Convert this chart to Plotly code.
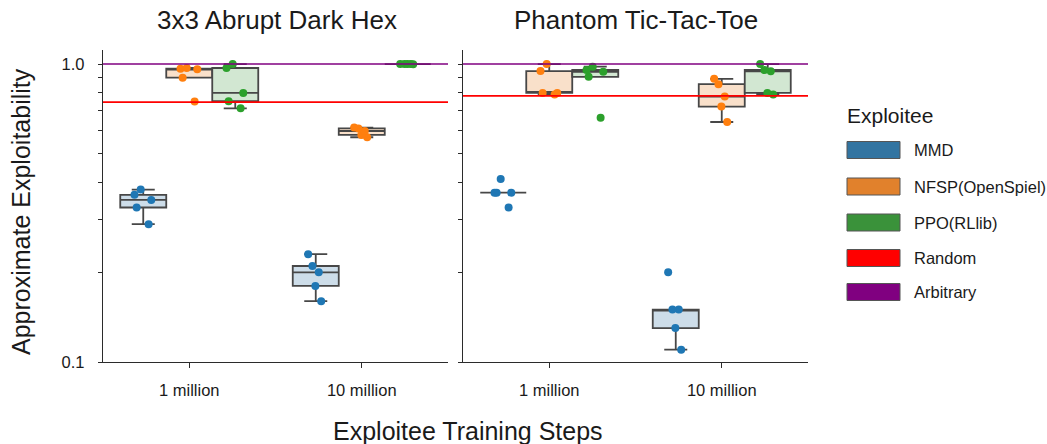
import plotly.graph_objects as go

# ---------------- data ----------------
categories = ["1 million", "10 million"]
games = ["3x3 Abrupt Dark Hex", "Phantom Tic-Tac-Toe"]
exploitees = ["MMD", "NFSP(OpenSpiel)", "PPO(RLlib)"]

darkhex_mmd_1m = [0.29, 0.33, 0.35, 0.364, 0.379]
darkhex_mmd_10m = [0.16, 0.18, 0.20, 0.21, 0.23]
darkhex_nfsp_1m = [0.749, 0.90, 0.96, 0.965, 0.97]
darkhex_nfsp_10m = [0.568, 0.578, 0.596, 0.608, 0.612]
darkhex_ppo_1m = [0.71, 0.75, 0.80, 0.97, 1.0]
darkhex_ppo_10m = [1.0, 1.0, 1.0, 0.998, 1.0]

pttt_mmd_1m = [0.33, 0.37, 0.37, 0.37, 0.411]
pttt_mmd_10m = [0.11, 0.13, 0.15, 0.15, 0.20]
pttt_nfsp_1m = [0.79, 0.80, 0.80, 0.947, 1.0]
pttt_nfsp_10m = [0.639, 0.72, 0.778, 0.856, 0.892]
pttt_ppo_1m = [0.66, 0.906, 0.942, 0.955, 0.98]
pttt_ppo_10m = [0.79, 0.80, 0.945, 0.955, 1.0]

random_level = [0.745, 0.782]      # per game
arbitrary_level = [1.0, 1.0]       # per game

ytick_vals = [0.1, 0.2, 0.3, 0.4, 0.5, 0.6, 0.7, 0.8, 0.9, 1.0]
ytick_text = ["0.1", "", "", "", "", "", "", "", "", "1.0"]

legend_names = ["MMD", "NFSP(OpenSpiel)", "PPO(RLlib)", "Random", "Arbitrary"]

# ---------------- styles ----------------
point_colors = ["#1f77b4", "#ff7f0e", "#2ca02c"]
box_fills = ["#cddde9", "#f9e0ca", "#d2e7d2"]
legend_colors = ["#3274a1", "#e1812c", "#3a923a", "#ff0000", "#800080"]
FONT = "Liberation Sans, Arial, Helvetica, sans-serif"
W, H = 1047, 444
# plot area in page pixels: x 103..808, y 50..362
L, T = 103, 50
R = W - 808
B = H - 362
PW, PH = W - L - R, H - T - B


def px(x):
    return (x - L) / PW


def py(y):
    return (H - B - y) / PH


series = {
    0: [(darkhex_mmd_1m, darkhex_mmd_10m), (darkhex_nfsp_1m, darkhex_nfsp_10m), (darkhex_ppo_1m, darkhex_ppo_10m)],
    1: [(pttt_mmd_1m, pttt_mmd_10m), (pttt_nfsp_1m, pttt_nfsp_10m), (pttt_ppo_1m, pttt_ppo_10m)],
}

fig = go.Figure()
for g in range(2):
    xa = "x" if g == 0 else "x2"
    ya = "y" if g == 0 else "y2"
    for i, name in enumerate(exploitees):
        v1, v10 = series[g][i]
        xs = [categories[0]] * len(v1) + [categories[1]] * len(v10)
        fig.add_trace(go.Box(
            x=xs, y=list(v1) + list(v10), name=name, xaxis=xa, yaxis=ya,
            boxpoints="all", jitter=0.45, pointpos=0, quartilemethod="inclusive",
            fillcolor=box_fills[i],
            line=dict(color="#474747", width=1.8),
            marker=dict(color=point_colors[i], size=8, line=dict(width=0)),
            whiskerwidth=0.5, showlegend=False, offsetgroup=str(i),
            hoverinfo="y",
        ))

shapes = []
for g in range(2):
    xr = "x domain" if g == 0 else "x2 domain"
    yr = "y" if g == 0 else "y2"
    shapes.append(dict(type="line", xref=xr, yref=yr, x0=0, x1=1,
                       y0=random_level[g], y1=random_level[g],
                       line=dict(color="#ff0000", width=1.6), layer="above"))
    shapes.append(dict(type="line", xref=xr, yref=yr, x0=0, x1=1,
                       y0=arbitrary_level[g], y1=arbitrary_level[g],
                       line=dict(color="#800080", width=1.6), layer="above"))

annotations = []
# legend (manual patches)
row_y = [150, 186.5, 222.5, 258, 292]
for k, nm in enumerate(legend_names):
    shapes.append(dict(type="rect", xref="paper", yref="paper",
                       x0=px(847), x1=px(900), y0=py(row_y[k] + 8.5), y1=py(row_y[k] - 8.5),
                       fillcolor=legend_colors[k], line=dict(color="#555555", width=1)))
    annotations.append(dict(text=nm, xref="paper", yref="paper", x=px(912), y=py(row_y[k]),
                            xanchor="left", yanchor="middle", showarrow=False,
                            font=dict(size=16.5, color="#1a1a1a", family=FONT)))
annotations.append(dict(text="Exploitee", xref="paper", yref="paper", x=px(845), y=py(115),
                        xanchor="left", yanchor="middle", showarrow=False,
                        font=dict(size=21, color="#1a1a1a", family=FONT)))
# subplot titles
annotations.append(dict(text=games[0], xref="paper", yref="paper", x=px(277), y=py(20),
                        xanchor="center", yanchor="middle", showarrow=False,
                        font=dict(size=26, color="#1a1a1a", family=FONT)))
annotations.append(dict(text=games[1], xref="paper", yref="paper", x=px(636), y=py(20),
                        xanchor="center", yanchor="middle", showarrow=False,
                        font=dict(size=26, color="#1a1a1a", family=FONT)))
# axis titles
annotations.append(dict(text="Approximate Exploitability", xref="paper", yref="paper",
                        x=px(21), y=py(212), textangle=-90, xanchor="center", yanchor="middle",
                        showarrow=False, font=dict(size=25, color="#1a1a1a", family=FONT)))
annotations.append(dict(text="Exploitee Training Steps", xref="paper", yref="paper",
                        x=px(468), y=py(431), xanchor="center", yanchor="middle",
                        showarrow=False, font=dict(size=25, color="#1a1a1a", family=FONT)))

d1 = (448 - L) / PW
d2 = (463 - L) / PW

axis_common = dict(showline=True, linecolor="#2b2b2b", linewidth=1.3, ticks="outside",
                   tickcolor="#2b2b2b", showgrid=False, zeroline=False,
                   tickfont=dict(size=16.5, color="#1a1a1a", family=FONT))

xaxis_common = dict(axis_common, type="category", categoryorder="array",
                    categoryarray=categories, range=[-0.5, 1.5], ticklen=5, tickwidth=1.2,
                    ticklabelstandoff=8)
yaxis_common = dict(axis_common, type="log", range=[-1, 0.0471], tickvals=ytick_vals,
                    ticktext=ytick_text, ticklen=4, tickwidth=1.2, ticklabelstandoff=10)

fig.update_layout(
    width=W, height=H,
    margin=dict(l=L, r=R, t=T, b=B, pad=0),
    paper_bgcolor="white", plot_bgcolor="white",
    boxmode="group", boxgap=0.2, boxgroupgap=0,
    xaxis=dict(xaxis_common, domain=[0, d1], anchor="y"),
    xaxis2=dict(xaxis_common, domain=[d2, 1], anchor="y2"),
    yaxis=dict(yaxis_common, anchor="x"),
    yaxis2=dict(yaxis_common, anchor="x2", matches="y", showticklabels=False),
    shapes=shapes, annotations=annotations,
    showlegend=False,
    font=dict(family=FONT),
)

# remove the browser's default 8px page margin so the figure fills the window exactly
fig.write_html("out.html", config={"displayModeBar": False},
               post_script="document.body.style.margin='0px';document.body.style.overflow='hidden';")
